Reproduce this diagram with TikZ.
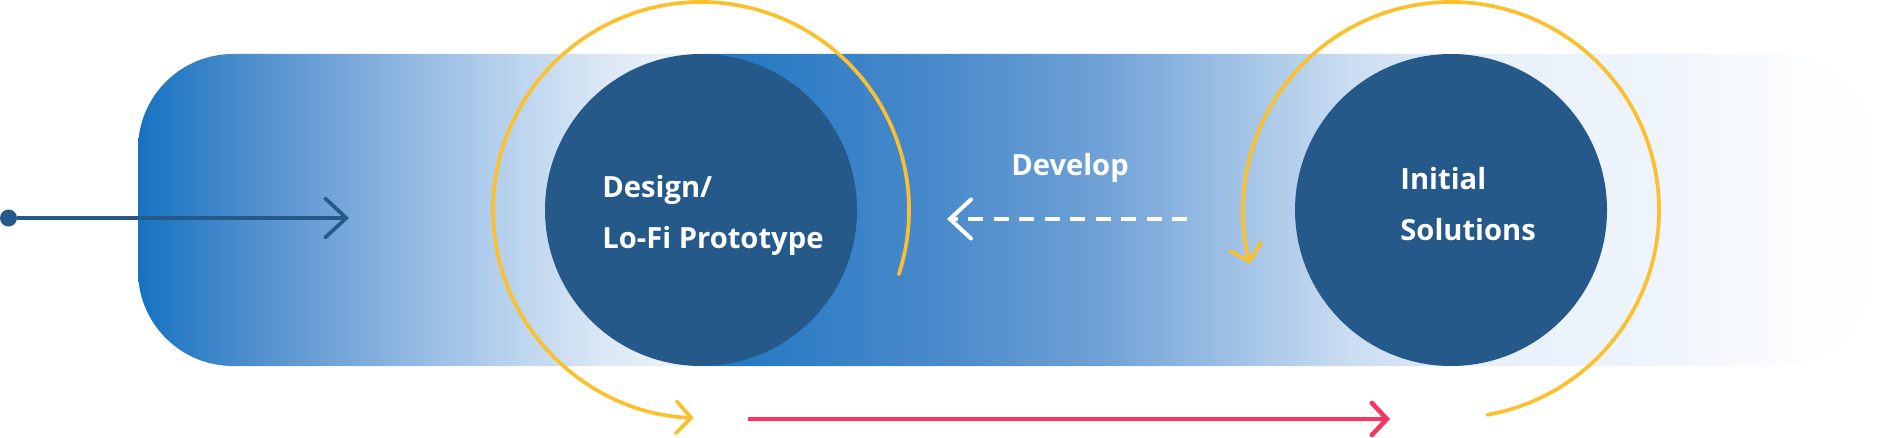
\documentclass[tikz,border=0pt]{standalone}
\usepackage{fontspec}
\newfontfamily\lblfont{Open Sans}
\usetikzlibrary{arrows.meta}

\definecolor{circblue}{HTML}{245989}
\definecolor{arcyellow}{HTML}{FBC02D}
\definecolor{linered}{HTML}{F93560}
% band colours, left part
\definecolor{bandA1}{HTML}{1472C0}
\definecolor{bandA2}{HTML}{4F8ECD}
\definecolor{bandA3}{HTML}{8DB5E0}
\definecolor{bandA4}{HTML}{B5D0EC}
\definecolor{bandA5}{HTML}{DAE7F5}
\definecolor{bandA6}{HTML}{F2F6FC}
% band colours, right part
\definecolor{bandB1}{HTML}{1F76C2}
\definecolor{bandB2}{HTML}{4A8ACB}
\definecolor{bandB3}{HTML}{6FA1D6}
\definecolor{bandB4}{HTML}{A5C5E7}
\definecolor{bandB5}{HTML}{CADDF1}
\definecolor{bandB6}{HTML}{E8F0FA}
\definecolor{bandB7}{HTML}{EEF4FB}
\definecolor{bandB8}{HTML}{FAFCFE}
\definecolor{bandB9}{HTML}{FFFFFF}

\tikzset{
  stage/.style={circle, fill=circblue, minimum size=6.24cm, inner sep=0pt},
  stagetext/.style={text=white, align=left, inner sep=0pt, anchor=west,
    font=\lblfont\bfseries\fontsize{16.6pt}{29pt}\selectfont},
  loop arc/.style={draw=arcyellow, line width=2.1pt, line cap=round,
    -{Straight Barb[length=0.3cm, width=0.64cm, line cap=round]}},
}

\begin{document}
\begin{tikzpicture}
        \useasboundingbox (0,0) rectangle (37.62,8.74);

        % gradient band
        \begin{scope}
          \clip [rounded corners=1.9cm] (2.76,1.42) rectangle (37.46,7.66);
          \foreach \xa/\xb/\ca/\cb in {2.7/5/bandA1/bandA2, 4.99/8/bandA2/bandA3,
              7.99/10/bandA3/bandA4, 9.99/12/bandA4/bandA5, 11.99/14.02/bandA5/bandA6,
              14.02/18.8/bandB1/bandB2, 18.79/22/bandB2/bandB3, 21.99/25/bandB3/bandB4,
              24.99/27/bandB4/bandB5, 26.99/30/bandB5/bandB6, 29.99/33/bandB6/bandB7,
              32.99/35.6/bandB7/bandB8, 35.59/37.7/bandB8/bandB9}
            \shade [left color=\ca, right color=\cb] (\xa,1.4) rectangle (\xb,7.7);
        \end{scope}

        % entry arrow
        \node [circle, fill=circblue, minimum size=0.34cm, inner sep=0pt] (start) at (0.17,4.38) {};
        \coordinate (entry) at (6.98,4.38);
        \draw [circblue, line width=2.1pt,
               -{Straight Barb[length=0.42cm, width=0.78cm, line cap=round]}] (start) -- (entry);

        % the two stages
        \node [stage] (design) at (14.02,4.54) {};
        \node [stage] (initial) at (29.02,4.54) {};
        \node [stagetext] (designtxt) at ([xshift=-1.98cm, yshift=-0.1cm]design.center)
              {Design/\\Lo-Fi Prototype};
        \node [stagetext] (initialtxt) at ([xshift=-1.02cm, yshift=0.11cm]initial.center)
              {Initial\\Solutions};

        % loops round the stages
        \draw [loop arc] ([shift={(-18:4.16)}]design.center)
              arc [start angle=-18, end angle=268, radius=4.16];
        \draw [loop arc] ([shift={(-80:4.16)}]initial.center)
              arc [start angle=-80, end angle=195, radius=4.16];

        % develop arrow
        \coordinate (devfrom) at (23.74,4.36);
        \coordinate (devto) at (18.94,4.36);
        \draw [white, line width=2.3pt, dash pattern=on 0.3cm off 0.21cm,
               -{Straight Barb[length=0.42cm, width=0.78cm, line cap=round]}] (devfrom) -- (devto);
        \node [anchor=base, text=white, inner sep=0pt,
               font=\lblfont\bfseries\fontsize{16.6pt}{29pt}\selectfont] (develop) at (21.4,5.24) {Develop};

        % exit arrow
        \coordinate (exitfrom) at (14.96,0.36);
        \coordinate (exitto) at (27.8,0.36);
        \draw [linered, line width=2.6pt,
               -{Straight Barb[length=0.3cm, width=0.64cm, line cap=round]}] (exitfrom) -- (exitto);
      \end{tikzpicture}
\end{document}
